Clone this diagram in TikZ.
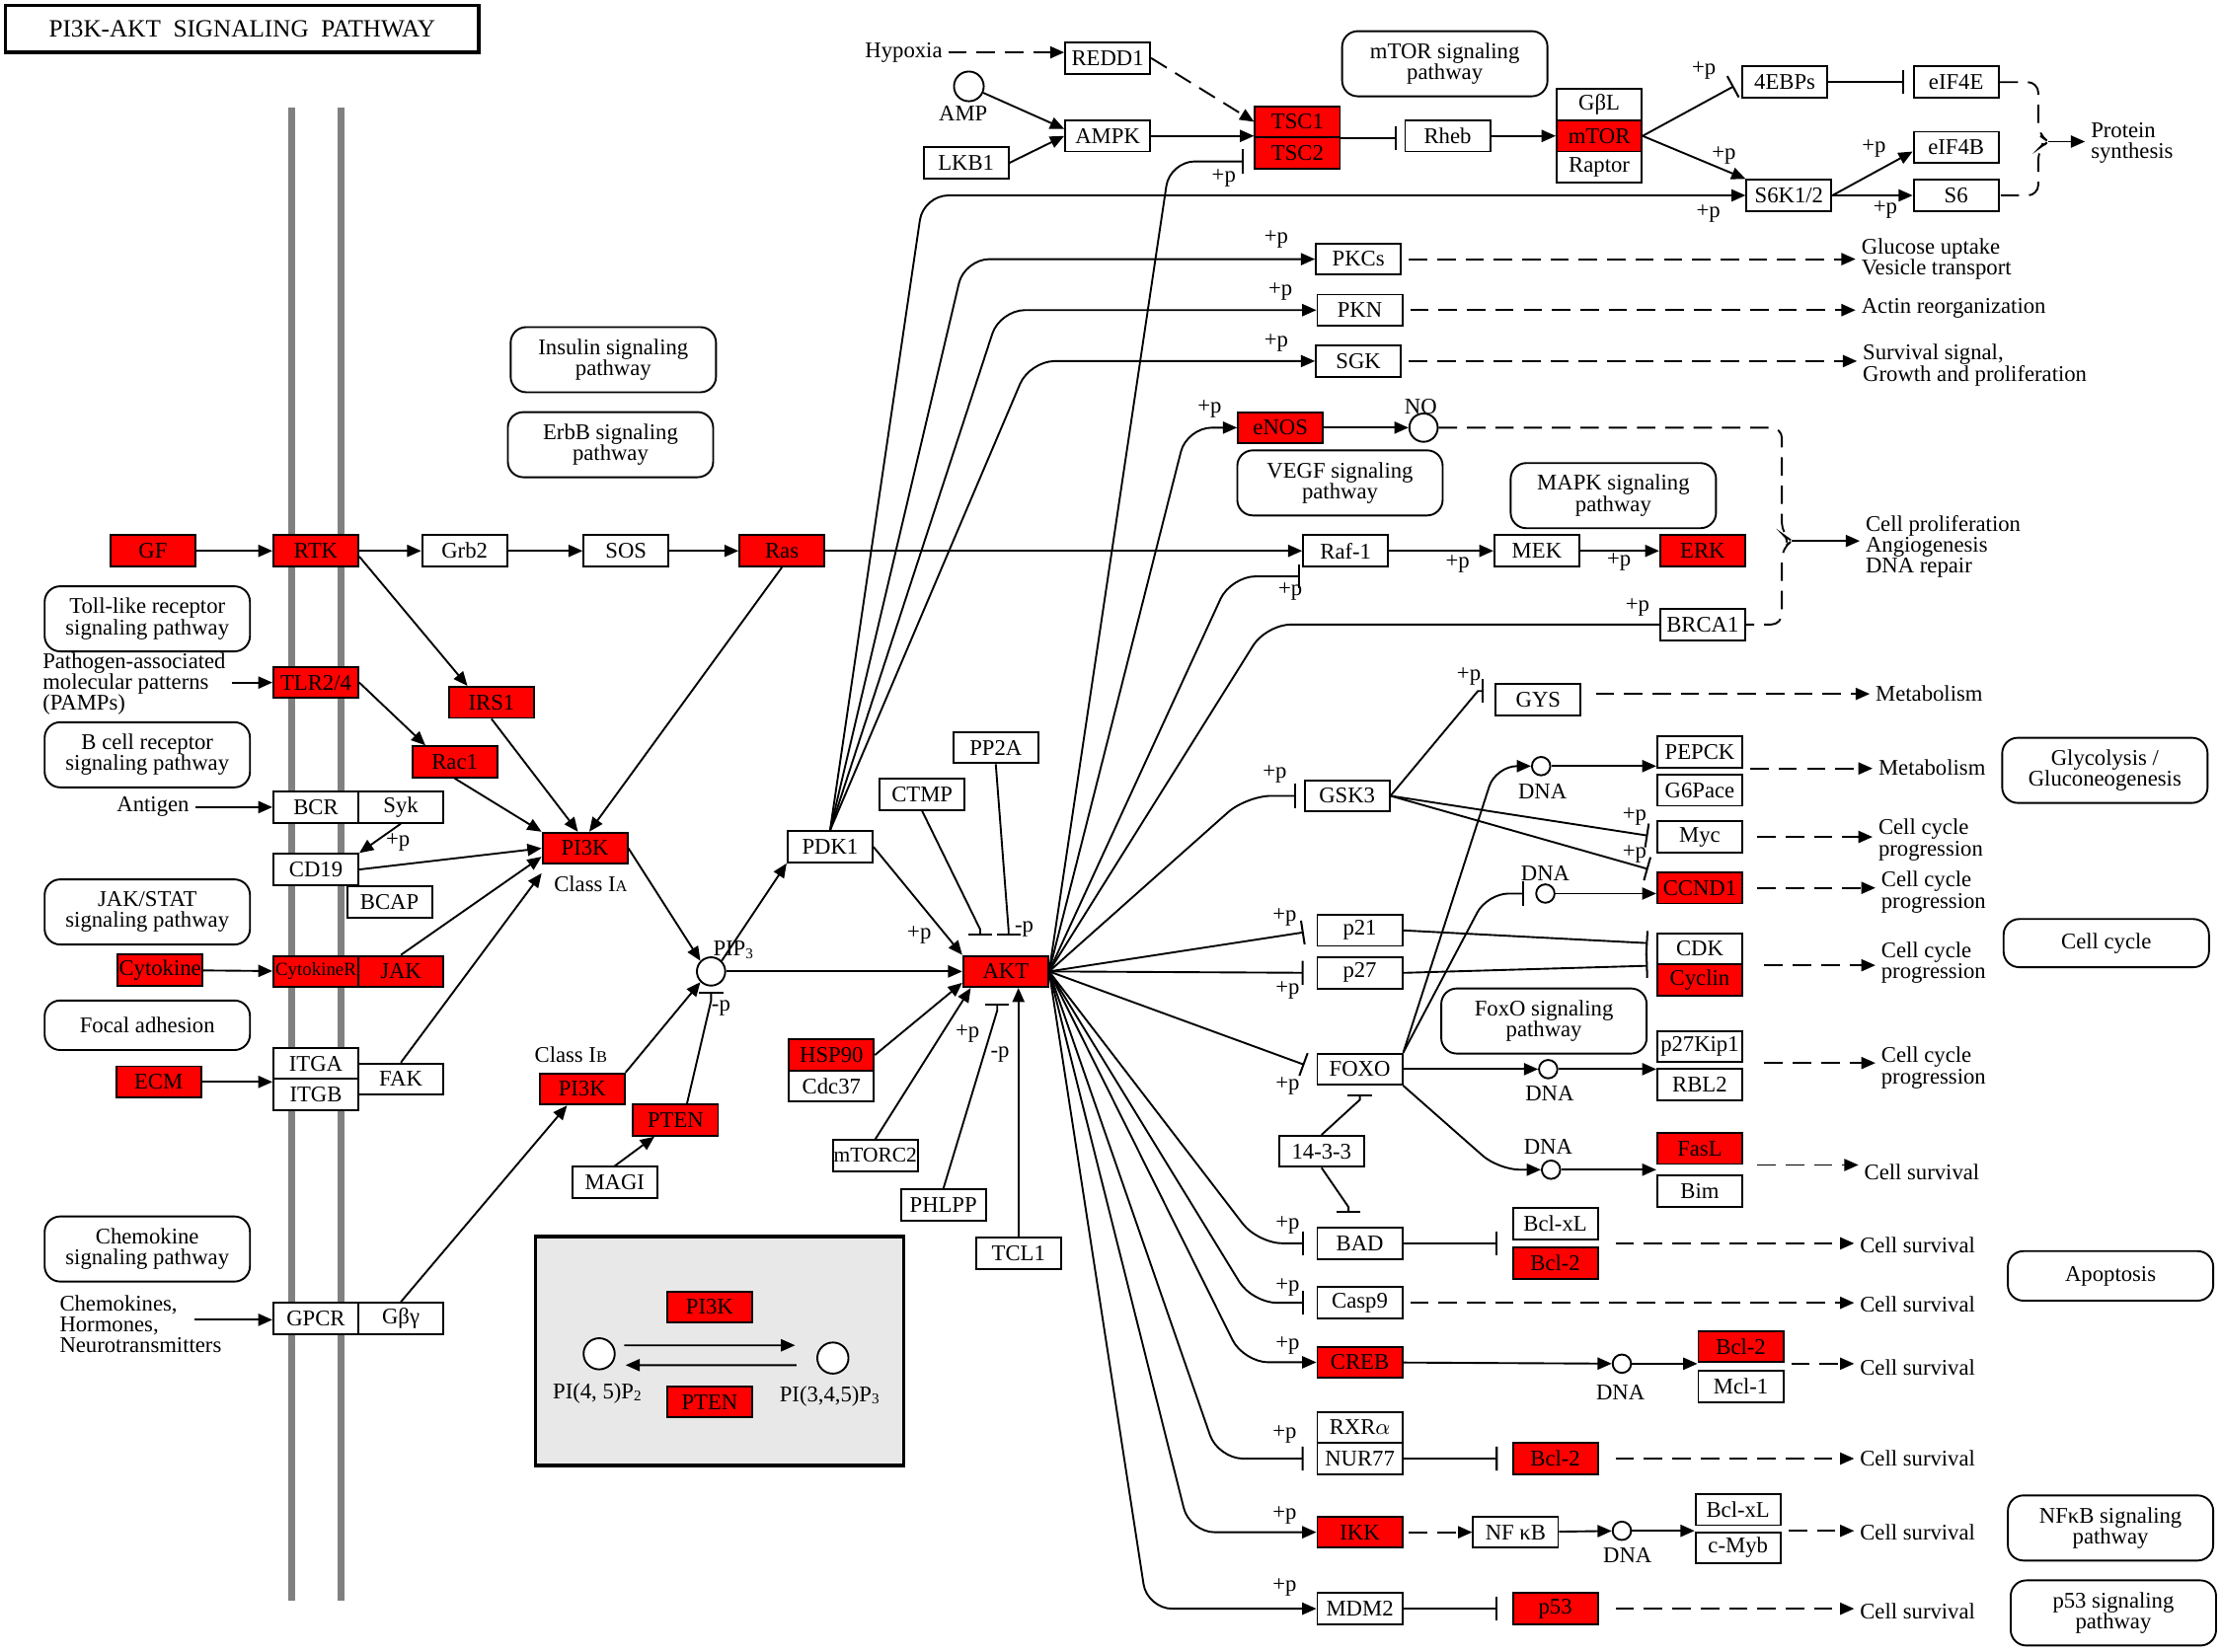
\documentclass[tikz,border=0pt]{standalone}
\usepackage{fontspec}
\setmainfont{Liberation Serif}
\usetikzlibrary{arrows.meta,positioning}

\definecolor{keggred}{RGB}{255,0,0}
\definecolor{membranegray}{RGB}{128,128,128}
\newcommand{\genefont}{\fontsize{9}{8.5}\selectfont}

\tikzset{
  gene/.style={draw, fill=white, minimum width=1.2cm, minimum height=0.44cm,
    inner sep=0pt, font=\genefont},
  hit/.style={gene, fill=keggred},
  pathbox/.style={draw, rounded corners=0.22cm, minimum width=2.9cm,
    minimum height=0.92cm, align=center, inner sep=1pt, font=\genefont},
  cpd/.style={circle, draw, fill=white, minimum size=0.42cm, inner sep=0pt},
  dna/.style={circle, draw, fill=white, minimum size=0.26cm, inner sep=0pt},
  txt/.style={font=\genefont, inner sep=2pt, align=left},
  plab/.style={font=\genefont, inner sep=0pt},
  act/.style={-{Triangle[length=0.2cm,width=0.17cm]}},
  inh/.style={-{Bar[width=0.34cm,line width=0.8pt]}},
  dsh/.style={dash pattern=on 0.26cm off 0.14cm},
  ind/.style={act, dsh},
  rc/.style={rounded corners=0.35cm}
}

\begin{document}
\begin{tikzpicture}[x=0.02cm, y=-0.02cm, line width=0.75pt]
\useasboundingbox (0,0) rectangle (1568,1166);

% title and membrane
\node[draw, line width=1.3pt, minimum width=6.68cm, minimum height=0.66cm,
  font=\fontsize{10}{11}\selectfont] (title) at (171,20.5) {PI3K-AKT\ \ SIGNALING\ \ PATHWAY};
\draw[membranegray, line width=0.1cm] (206,76) -- (206,1130);
\draw[membranegray, line width=0.1cm] (241,76) -- (241,1130);

% PI3K / PTEN inset
\node[draw, fill=gray!18, line width=1.5pt, minimum width=5.2cm, minimum height=3.24cm] (inset) at (508,954) {};
\node[hit] (PI3Kc) at (501,923) {PI3K};
\node[hit] (PTENc) at (501,990) {PTEN};
\node[cpd, minimum size=0.44cm] (pip2) at (423,956) {};
\node[cpd, minimum size=0.44cm] (pip3c) at (588,959) {};
\node[plab] (pip2lab) at (422,984) {PI(4, 5)P\textsubscript{2}};
\node[plab] (pip3lab) at (586,986) {PI(3,4,5)P\textsubscript{3}};
\draw[act] ([xshift=0.12cm,yshift=0.12cm]pip2.east) -- ([xshift=-0.3cm,yshift=0.18cm]pip3c.west);
\draw[act] ([xshift=-0.28cm,yshift=-0.1cm]pip3c.west) -- ([xshift=0.14cm,yshift=-0.16cm]pip2.east);

% pathway maps
\node[pathbox] (toll) at (104,437) {Toll-like receptor\\signaling pathway};
\node[pathbox] (bcell) at (104,533) {B cell receptor\\signaling pathway};
\node[pathbox] (jakstat) at (104,644) {JAK/STAT\\signaling pathway};
\node[pathbox, minimum height=0.7cm] (focal) at (104,724) {Focal adhesion};
\node[pathbox] (chemo) at (104,882) {Chemokine\\signaling pathway};
\node[pathbox] (insulin) at (433,254) {Insulin signaling\\pathway};
\node[pathbox] (erbb) at (431,314) {ErbB signaling\\pathway};
\node[pathbox] (mtorpw) at (1020,45) {mTOR signaling\\pathway};
\node[pathbox] (vegf) at (946,341) {VEGF signaling\\pathway};
\node[pathbox] (mapk) at (1139,350) {MAPK signaling\\pathway};
\node[pathbox] (glyco) at (1486,544) {Glycolysis /\\Gluconeogenesis};
\node[pathbox, minimum height=0.68cm] (cellcycle) at (1487,666) {Cell cycle};
\node[pathbox] (foxopw) at (1090,721) {FoxO signaling\\pathway};
\node[pathbox, minimum height=0.7cm] (apop) at (1490,901) {Apoptosis};
\node[pathbox] (nfkbpw) at (1490,1079) {NFκB signaling\\pathway};
\node[pathbox] (p53pw) at (1492,1139) {p53 signaling\\pathway};

% receptors and upstream
\node[hit] (GF) at (108,389) {GF};
\node[hit] (RTK) at (223,389) {RTK};
\node[gene] (Grb2) at (328,389) {Grb2};
\node[gene] (SOS) at (442,389) {SOS};
\node[hit] (Ras) at (552,389) {Ras};
\node[gene] (Raf1) at (950,389) {Raf-1};
\node[gene] (MEK) at (1085,389) {MEK};
\node[hit] (ERK) at (1202,389) {ERK};
\node[txt, anchor=west] (pamps) at (26,483) {Pathogen-associated\\molecular patterns\\(PAMPs)};
\node[hit] (TLR) at (223,482) {TLR2/4};
\node[hit] (IRS1) at (347,496) {IRS1};
\node[hit] (Rac1) at (321,538) {Rac1};
\node[txt] (antigen) at (108,570) {Antigen};
\node[gene] (BCR) at (223,570) {BCR};
\node[gene, right=-0.75pt of BCR] (Syk) {Syk};
\node[gene] (CD19) at (223,614) {CD19};
\node[gene] (BCAP) at (275,637) {BCAP};
\node[hit] (PI3Ka) at (413,599) {PI3K};
\node[plab] (classIA) at (417,624) {Class I{\fontsize{6.5}{7}\selectfont A}};
\node[hit] (Cytokine) at (113,685) {Cytokine};
\node[hit, font=\fontsize{7.5}{8}\selectfont] (CytR) at (223,686) {CytokineR};
\node[hit, right=-0.75pt of CytR] (JAK) {JAK};
\node[hit] (ECM) at (112,764) {ECM};
\node[gene] (ITGA) at (223,751) {ITGA};
\node[gene, below=-0.75pt of ITGA] (ITGB) {ITGB};
\node[gene] (FAK) at (283,762) {FAK};
\node[plab] (classIB) at (403,745) {Class I{\fontsize{6.5}{7}\selectfont B}};
\node[hit] (PI3Kb) at (411,769) {PI3K};
\node[hit] (PTEN) at (477,791) {PTEN};
\node[gene] (MAGI) at (434,835) {MAGI};
\node[txt, anchor=west] (chemokines) at (38,935) {Chemokines,\\Hormones,\\Neurotransmitters};
\coordinate (chemoIn) at (137,932);
\node[gene] (GPCR) at (223,931) {GPCR};
\node[gene, right=-0.75pt of GPCR] (Gby) {Gβγ};

% PIP3 and AKT core
\node[cpd, minimum size=0.4cm] (PIP3) at (502,686) {};
\node[plab] (pip3name) at (518,671) {PIP\textsubscript{3}};
\node[gene] (PDK1) at (586,598) {PDK1};
\node[gene] (CTMP) at (651,561) {CTMP};
\node[gene] (PP2A) at (703,528) {PP2A};
\node[hit] (AKT) at (710,686) {AKT};
\node[hit] (HSP90) at (587,745) {HSP90};
\node[gene, below=-0.75pt of HSP90] (Cdc37) {Cdc37};
\node[gene, font=\fontsize{8.5}{9}\selectfont] (mTORC2) at (618,816) {mTORC2};
\node[gene] (PHLPP) at (666,851) {PHLPP};
\node[gene] (TCL1) at (719,885) {TCL1};

% mTOR branch
\node[txt] (hypoxia) at (638,37) {Hypoxia};
\node[gene] (REDD1) at (782,41) {REDD1};
\node[cpd] (AMP) at (684,61) {};
\node[plab] (amplab) at (680,80) {AMP};
\node[gene] (AMPK) at (782,96) {AMPK};
\node[gene] (LKB1) at (682,115) {LKB1};
\node[hit] (TSC1) at (916,86) {TSC1};
\node[hit, below=-0.75pt of TSC1] (TSC2) {TSC2};
\node[gene] (Rheb) at (1022,96) {Rheb};
\node[hit] (mTOR) at (1129,96) {mTOR};
\node[gene, above=-0.75pt of mTOR] (GbL) {GβL};
\node[gene, below=-0.75pt of mTOR] (Raptor) {Raptor};
\node[gene] (EBP) at (1260,58) {4EBPs};
\node[gene] (eIF4E) at (1381,58) {eIF4E};
\node[gene] (eIF4B) at (1381,104) {eIF4B};
\node[gene] (S6K) at (1263,138) {S6K1/2};
\node[gene] (S6) at (1381,138) {S6};
\coordinate (brP) at (1446,100);
\node[txt, anchor=west] (protein) at (1472,101) {Protein\\synthesis};

% AKT targets
\node[gene] (PKCs) at (959,183) {PKCs};
\node[gene] (PKN) at (960,219) {PKN};
\node[gene] (SGK) at (959,255) {SGK};
\node[hit] (eNOS) at (904,302) {eNOS};
\node[cpd, minimum size=0.4cm] (NO) at (1005,302) {};
\node[plab] (nolab) at (1003,287) {NO};
\node[gene] (BRCA1) at (1202,441) {BRCA1};
\coordinate (brN) at (1265,382);
\coordinate (tscI) at (878,114);
\coordinate (rafI) at (918,407);
\node[gene] (GYS) at (1086,494) {GYS};
\node[gene] (GSK3) at (951,562) {GSK3};
\node[dna] (dnaA) at (1088,541) {};
\node[gene] (PEPCK) at (1200,531) {PEPCK};
\node[gene] (G6Pace) at (1200,558) {G6Pace};
\node[gene] (Myc) at (1200,591) {Myc};
\node[dna] (dnaB) at (1091,631) {};
\node[hit] (CCND1) at (1200,627) {CCND1};
\node[gene] (p21) at (960,657) {p21};
\node[gene] (p27) at (960,687) {p27};
\node[gene] (CDK) at (1200,670) {CDK};
\node[hit, below=-0.75pt of CDK] (Cyclin) {Cyclin};
\node[gene] (FOXO) at (960,755) {FOXO};
\node[dna] (dnaC) at (1093,755) {};
\node[gene] (p27Kip1) at (1200,739) {p27Kip1};
\node[gene] (RBL2) at (1200,766) {RBL2};
\node[gene] (t1433) at (933,813) {14-3-3};
\node[dna] (dnaD) at (1095,826) {};
\node[hit] (FasL) at (1200,811) {FasL};
\node[gene] (Bim) at (1200,841) {Bim};
\node[gene] (BAD) at (960,878) {BAD};
\node[gene] (BclxLa) at (1098,864) {Bcl-xL};
\node[hit] (Bcl2a) at (1098,892) {Bcl-2};
\node[gene] (Casp9) at (960,920) {Casp9};
\node[hit] (CREB) at (960,962) {CREB};
\node[dna] (dnaE) at (1145,963) {};
\node[hit] (Bcl2b) at (1229,951) {Bcl-2};
\node[gene] (Mcl1) at (1229,979) {Mcl-1};
\node[gene] (RXRa) at (960,1008) {RXR$\alpha$};
\node[gene, below=-0.75pt of RXRa] (NUR77) {NUR77};
\node[hit] (Bcl2c) at (1098,1030) {Bcl-2};
\node[hit] (IKK) at (960,1082) {IKK};
\node[gene] (NFkB) at (1070,1082) {NF κB};
\node[dna] (dnaF) at (1145,1081) {};
\node[gene] (BclxLb) at (1227,1066) {Bcl-xL};
\node[gene] (cMyb) at (1227,1093) {c-Myb};
\node[gene] (MDM2) at (960,1136) {MDM2};
\node[hit] (p53) at (1098,1136) {p53};

% outcomes
\node[txt, anchor=west] (glu) at (1310,183) {Glucose uptake\\Vesicle transport};
\node[txt, anchor=west] (actin) at (1310,218) {Actin reorganization};
\node[txt, anchor=west] (survsig) at (1311,258) {Survival signal,\\Growth and proliferation};
\node[txt, anchor=west] (prolif) at (1313,386) {Cell proliferation\\Angiogenesis\\DNA repair};
\node[txt, anchor=west] (metab1) at (1320,490) {Metabolism};
\node[txt, anchor=west] (metab2) at (1322,542) {Metabolism};
\node[txt, anchor=west] (cc1) at (1322,593) {Cell cycle\\progression};
\node[txt, anchor=west] (cc2) at (1324,630) {Cell cycle\\progression};
\node[txt, anchor=west] (cc3) at (1324,680) {Cell cycle\\progression};
\node[txt, anchor=west] (cc4) at (1324,754) {Cell cycle\\progression};
\node[txt, anchor=west] (cs1) at (1312,828) {Cell survival};
\foreach \nm/\py in {cs2/879, cs3/921, cs4/966, cs5/1030, cs6/1082, cs7/1138}
  \node[txt, anchor=west] (\nm) at (1309,\py) {Cell survival};

% labels
\foreach \px/\py [count=\i] in {1029/398, 1143/397, 1156/429, 911/418, 864/126,
    854/289, 901/169, 904/206, 901/242, 1206/151, 1203/50, 1217/110, 1323/105,
    1331/148, 1037/478, 900/547, 1154/577, 1154/603, 907/648, 909/699, 909/767,
    909/865, 909/909, 909/950, 907/1013, 907/1070, 907/1121, 649/660, 683/730, 281/595}
  \node[plab] (plus\i) at (\px,\py) {+p};
\foreach \px/\py [count=\i] in {723/656, 706/745, 509/712}
  \node[plab] (minus\i) at (\px,\py) {-p};
\foreach \px/\py [count=\i] in {1089/559, 1091/617, 1094/772, 1093/810, 1144/983, 1149/1098}
  \node[plab] (dnalab\i) at (\px,\py) {DNA};

% receptor signalling
\draw[act] (GF) -- (RTK);
\draw[act] (RTK) -- (Grb2);
\draw[act] (Grb2) -- (SOS);
\draw[act] (SOS) -- (Ras);
\draw[act] (Ras) -- (Raf1);
\draw[act] (Raf1) -- (MEK);
\draw[act] (MEK) -- (ERK);
\draw[act] ([yshift=-0.08cm]RTK.east) -- ([xshift=-0.34cm]IRS1.north);
\draw[act] (pamps.east |- TLR.west) -- (TLR.west);
\draw[act] (TLR.east) -- ([xshift=0.2cm]Rac1.north west);
\draw[act] (IRS1.south) -- ([xshift=-0.1cm]PI3Ka.north);
\draw[act] (Ras.south) -- ([xshift=0.06cm]PI3Ka.north);
\draw[act] (Rac1.south) -- (PI3Ka.north west);
\draw[act] (antigen) -- (BCR);
\draw[act] (Syk.south) -- (CD19.north east);
\draw[act] (CD19.east) -- (PI3Ka.west);
\draw[act] (JAK.north) -- ([yshift=-0.12cm]PI3Ka.west);
\draw[act] (FAK.north) -- ([yshift=-0.12cm]PI3Ka.south west);
\draw[act] (Cytokine) -- (CytR);
\draw[act] (ECM) -- (ECM -| ITGA.west);
\draw[act] (chemoIn) -- (chemoIn -| GPCR.west);
\draw[act] (Gby.north) -- ([xshift=0.4cm]PI3Kb.south west);

% PIP3 and AKT activation
\draw[act] (PI3Ka.east) -- (PIP3.north west);
\draw[act] (PI3Kb.north east) -- (PIP3.south west);
\draw[inh] ([xshift=0.16cm]PTEN.north) -- ([yshift=-0.2cm]PIP3.south) -- ([yshift=-0.08cm]PIP3.south);
\draw[act] (MAGI.north) -- ([xshift=-0.3cm]PTEN.south);
\draw[act] (PIP3.north east) -- (PDK1.south west);
\draw[act] (PIP3) -- (AKT);
\draw[act] (PDK1.east) -- (AKT.north west);
\draw[inh] (CTMP.south) -- ([xshift=-0.36cm,yshift=0.36cm]AKT.north) -- ([xshift=-0.36cm,yshift=0.28cm]AKT.north);
\draw[inh] (PP2A.south) -- ([xshift=0.04cm,yshift=0.36cm]AKT.north) -- ([xshift=0.04cm,yshift=0.28cm]AKT.north);
\draw[act] (HSP90.east) -- ([yshift=-0.16cm]AKT.west);
\draw[act] (mTORC2.north) -- ([xshift=0.12cm]AKT.south west);
\draw[inh] (PHLPP.north) -- ([xshift=-0.12cm,yshift=-0.32cm]AKT.south) -- ([xshift=-0.12cm,yshift=-0.22cm]AKT.south);
\draw[act] (TCL1) -- (TCL1 |- AKT.south);

% PDK1 targets
\draw[act, rc] (PDK1.north) -- (652,138) -- (S6K.west);
\draw[act, rc] (PDK1.north) -- (681,183) -- (PKCs.west);
\draw[act, rc] (PDK1.north) -- (706,219) -- (PKN.west);
\draw[act, rc] (PDK1.north) -- (727,255) -- (SGK.west);

% AKT targets
\draw[inh, rc] (AKT.east) -- (826,114) -- (tscI);
\draw[act, rc] (AKT.east) -- (838,302) -- (eNOS.west);
\draw[inh, rc] (AKT.east) -- (869,407) -- (rafI);
\draw[rc] (AKT.east) -- (894,441) -- (BRCA1.west);
\draw[inh, rc, shorten >=0.1cm] (AKT.east) -- (880,562) -- (GSK3.west);
\draw[inh, shorten >=0.18cm] (AKT.east) -- (p21.west);
\draw[inh, shorten >=0.18cm] (AKT.east) -- (p27.west);
\draw[inh, shorten >=0.18cm] (AKT.east) -- (FOXO.west);
\draw[inh, rc, shorten >=0.18cm] (AKT.east) -- (888,878) -- (BAD.west);
\draw[inh, rc, shorten >=0.18cm] (AKT.east) -- (884,920) -- (Casp9.west);
\draw[act, rc] (AKT.east) -- (878,962) -- (CREB.west);
\draw[inh, rc, shorten >=0.18cm] (AKT.east) -- (860,1030) -- (NUR77.west);
\draw[act, rc] (AKT.east) -- (840,1082) -- (IKK.west);
\draw[act, rc] (AKT.east) -- (810,1136) -- (MDM2.west);

% mTOR branch
\draw[ind] (hypoxia.east) -- (hypoxia.east -| REDD1.west);
\draw[ind] (REDD1.east) -- (TSC1.west);
\draw[act] (AMP) -- ([yshift=0.1cm]AMPK.west);
\draw[act] (LKB1.east) -- (AMPK.west);
\draw[act] (AMPK) -- (AMPK -| TSC1.west);
\draw[inh, shorten >=0.1cm] (TSC1.south east) -- (TSC1.south east -| Rheb.west);
\draw[act] (Rheb) -- (mTOR);
\draw[inh, shorten >=0.12cm] (mTOR.east) -- (EBP.west);
\draw[act] (mTOR.east) -- (S6K.north west);
\draw[inh, shorten >=0.12cm] (EBP) -- (eIF4E);
\draw[act] (S6K.east) -- ([yshift=-0.06cm]eIF4B.west);
\draw[act] (S6K) -- (S6);
\draw[dsh, rounded corners=0.15cm] (eIF4E.east) -- (1439,58) -- (1439,95) -- (brP)
  -- (1439,105) -- (1439,138) -- (S6.east);
\draw[act] (brP) -- (brP -| protein.west);

% NO and growth outputs
\draw[act] (eNOS) -- (NO);
\draw[dsh, rounded corners=0.15cm] (NO.east) -- (1258,302) -- (1258,377) -- (brN)
  -- (1258,387) -- (1258,441) -- (BRCA1.east);
\draw[act] (brN) -- (brN -| prolif.west);
\draw[ind, shorten <=0.1cm] (PKCs) -- (PKCs -| glu.west);
\draw[ind, shorten <=0.1cm] (PKN) -- (PKN -| actin.west);
\draw[ind, shorten <=0.1cm] (SGK) -- (SGK -| survsig.west);

% GSK3 and FOXO
\draw[inh] (GSK3.east) -- ([xshift=-0.24cm,yshift=0.12cm]GYS.west) -- ([xshift=-0.16cm,yshift=0.12cm]GYS.west);
\draw[inh, shorten >=0.12cm] (GSK3.east) -- (Myc.west);
\draw[inh, shorten >=0.12cm] (GSK3.east) -- (CCND1.north west);
\draw[ind, shorten <=0.2cm] (GYS.east |- metab1) -- (metab1.west);
\draw[act, rounded corners=0.3cm] (FOXO.north east) -- (1056,541) -- (dnaA);
\draw[inh, rounded corners=0.3cm] (FOXO.north east) -- (1050,631) -- ([xshift=-0.16cm]dnaB.west);
\draw[act] (FOXO) -- (dnaC);
\draw[act, rounded corners=0.3cm] (FOXO.south east) -- (1058,826) -- (dnaD);
\draw[act] (dnaA) -- (dnaA -| PEPCK.west);
\draw[act] (dnaB) -- (dnaB -| CCND1.west);
\draw[act] (dnaC) -- (dnaC -| p27Kip1.west);
\draw[act] (dnaD) -- (dnaD -| FasL.west);
\draw[inh] (p21.east) -- ([xshift=-0.12cm,yshift=0.08cm]CDK.west);
\draw[inh] (p27.east) -- ([xshift=-0.12cm,yshift=0.2cm]Cyclin.west);
\draw[inh] (t1433.north) -- ([yshift=-0.2cm]FOXO.south) -- ([yshift=-0.12cm]FOXO.south);
\draw[inh] (t1433.south) -- ([xshift=-0.16cm,yshift=0.28cm]BAD.north) -- ([xshift=-0.16cm,yshift=0.2cm]BAD.north);
\draw[ind, shorten <=0.1cm] (PEPCK.south east) -- (PEPCK.south east -| metab2.west);
\draw[ind, shorten <=0.2cm] (Myc) -- (Myc -| cc1.west);
\draw[ind, shorten <=0.2cm] (CCND1) -- (CCND1 -| cc2.west);
\draw[ind, shorten <=0.3cm] (CDK.south east) -- (CDK.south east -| cc3.west);
\draw[ind, shorten <=0.3cm] (p27Kip1.south east) -- (p27Kip1.south east -| cc4.west);
\draw[ind, shorten <=0.2cm] (FasL.south east) -- (FasL.south east -| cs1.west);

% survival outputs
\draw[inh, shorten >=0.2cm] (BAD) -- (BAD -| BclxLa.west);
\draw[ind, shorten <=0.24cm] (BclxLa.east |- BAD) -- (BAD -| cs2.west);
\draw[ind, shorten <=0.1cm] (Casp9) -- (Casp9 -| cs3.west);
\draw[act] (CREB) -- (dnaE);
\draw[act] (dnaE) -- (dnaE -| Bcl2b.west);
\draw[ind, shorten <=0.1cm] (Bcl2b.east |- dnaE) -- (dnaE -| cs4.west);
\draw[inh, shorten >=0.2cm] (NUR77) -- (Bcl2c);
\draw[ind, shorten <=0.24cm] (Bcl2c) -- (Bcl2c -| cs5.west);
\draw[ind, shorten <=0.08cm] (IKK) -- (NFkB);
\draw[act] (NFkB) -- (dnaF);
\draw[act] (dnaF) -- (dnaF -| BclxLb.west);
\draw[ind, shorten <=0.1cm] (BclxLb.east |- dnaF) -- (dnaF -| cs6.west);
\draw[inh, shorten >=0.2cm] (MDM2) -- (p53);
\draw[ind, shorten <=0.24cm] (p53) -- (p53 -| cs7.west);

\end{tikzpicture}
\end{document}
